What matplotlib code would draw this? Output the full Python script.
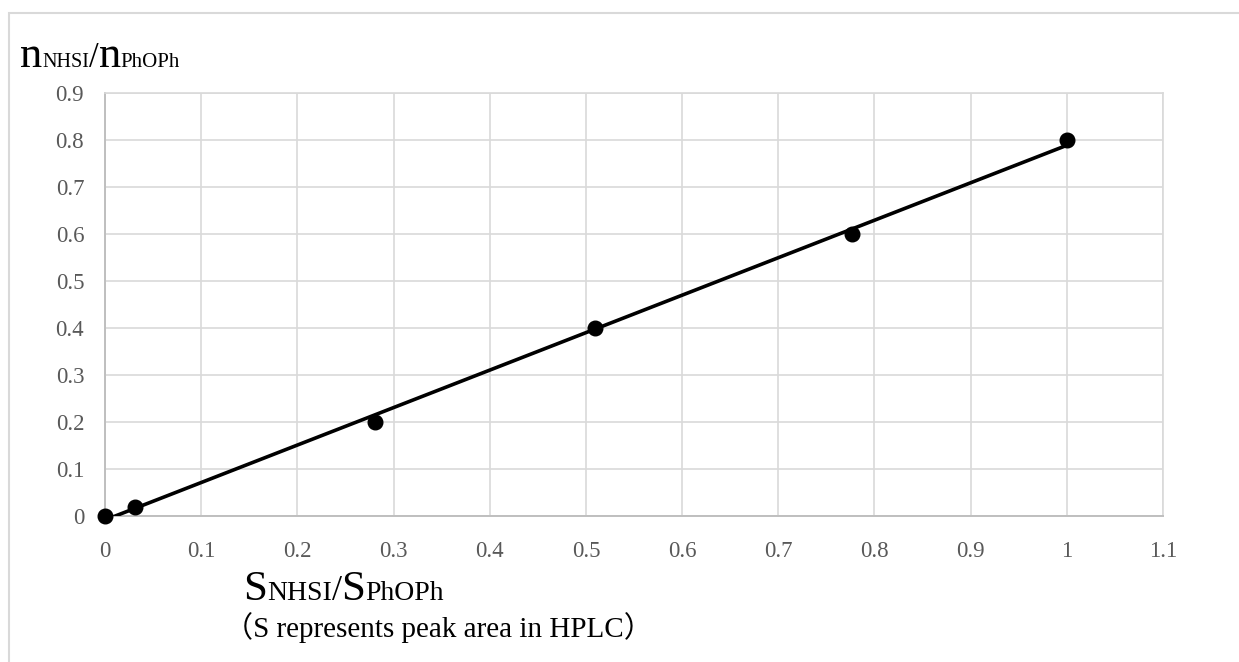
import numpy as np
import matplotlib
matplotlib.use('Agg')
import matplotlib.pyplot as plt
from matplotlib.patches import Rectangle

# data
s_ratio = [0.0, 0.031, 0.281, 0.509, 0.777, 1.0]
n_ratio = [0.0, 0.02, 0.2, 0.4, 0.6, 0.8]
x_ticks = [0, 0.1, 0.2, 0.3, 0.4, 0.5, 0.6, 0.7, 0.8, 0.9, 1, 1.1]
y_ticks = [0, 0.1, 0.2, 0.3, 0.4, 0.5, 0.6, 0.7, 0.8, 0.9]
x_tick_labels = ['0', '0.1', '0.2', '0.3', '0.4', '0.5', '0.6', '0.7', '0.8', '0.9', '1', '1.1']
y_tick_labels = ['0', '0.1', '0.2', '0.3', '0.4', '0.5', '0.6', '0.7', '0.8', '0.9']

FONT = ['Liberation Serif', 'Noto Sans CJK SC', 'DejaVu Sans']
plt.rcParams['font.family'] = FONT

W, H = 1239, 662
fig = plt.figure(figsize=(W / 100, H / 100), dpi=100)
fig.patch.set_facecolor('white')

# outer chart frame (runs off the right and bottom edges)
fig.patches.append(Rectangle((9 / W, -0.1), 1.2, 1 - 13 / H + 0.1, transform=fig.transFigure,
                             fill=False, edgecolor='#d9d9d9', linewidth=1.5, clip_on=False))

ax = fig.add_axes([105 / W, (H - 516) / H, (1163 - 105) / W, (516 - 93) / H])

# trendline (linear fit over data range)
coef = np.polyfit(s_ratio, n_ratio, 1)
xl = np.array([min(s_ratio), max(s_ratio)])
ax.plot(xl, np.polyval(coef, xl), color='black', linewidth=2.6, zorder=3, solid_capstyle='butt')
ax.plot(s_ratio, n_ratio, 'o', color='black', markersize=10.5, zorder=4, clip_on=False)

ax.set_xlim(0, 1.1)
ax.set_ylim(0, 0.9)
ax.set_xticks(x_ticks)
ax.set_xticklabels(x_tick_labels)
ax.set_yticks(y_ticks)
ax.set_yticklabels(y_tick_labels)
ax.grid(True, color='#d9d9d9', linewidth=1.2)
ax.set_axisbelow(True)
ax.tick_params(length=0, labelsize=16.5, labelcolor='#595959', pad=0)
ax.tick_params(axis='x', pad=18)
ax.tick_params(axis='y', pad=15)
for side in ['top', 'right']:
    ax.spines[side].set_color('#d9d9d9')
    ax.spines[side].set_linewidth(1.2)
for side in ['left', 'bottom']:
    ax.spines[side].set_color('#bfbfbf')
    ax.spines[side].set_linewidth(1.4)

renderer = fig.canvas.get_renderer()


def text_run(x_px, y_px, parts):
    # parts: list of (string, fontsize); all share one baseline
    x = x_px
    for s, size in parts:
        t = fig.text(x / W, 1 - y_px / H, s, fontsize=size, va='baseline', ha='left',
                     color='black', family=FONT)
        bb = t.get_window_extent(renderer=renderer)
        x = bb.x1


text_run(20, 67, [('n', 32), ('NHSI', 14.5), ('/', 25), ('n', 32), ('PhOPh', 15)])
text_run(243, 600, [('S', 31), ('NHSI', 20), ('/', 26), ('S', 31), ('PhOPh', 20)])
text_run(224, 637, [('（S represents peak area in HPLC）', 21)])

fig.savefig('out.png', dpi=100)
